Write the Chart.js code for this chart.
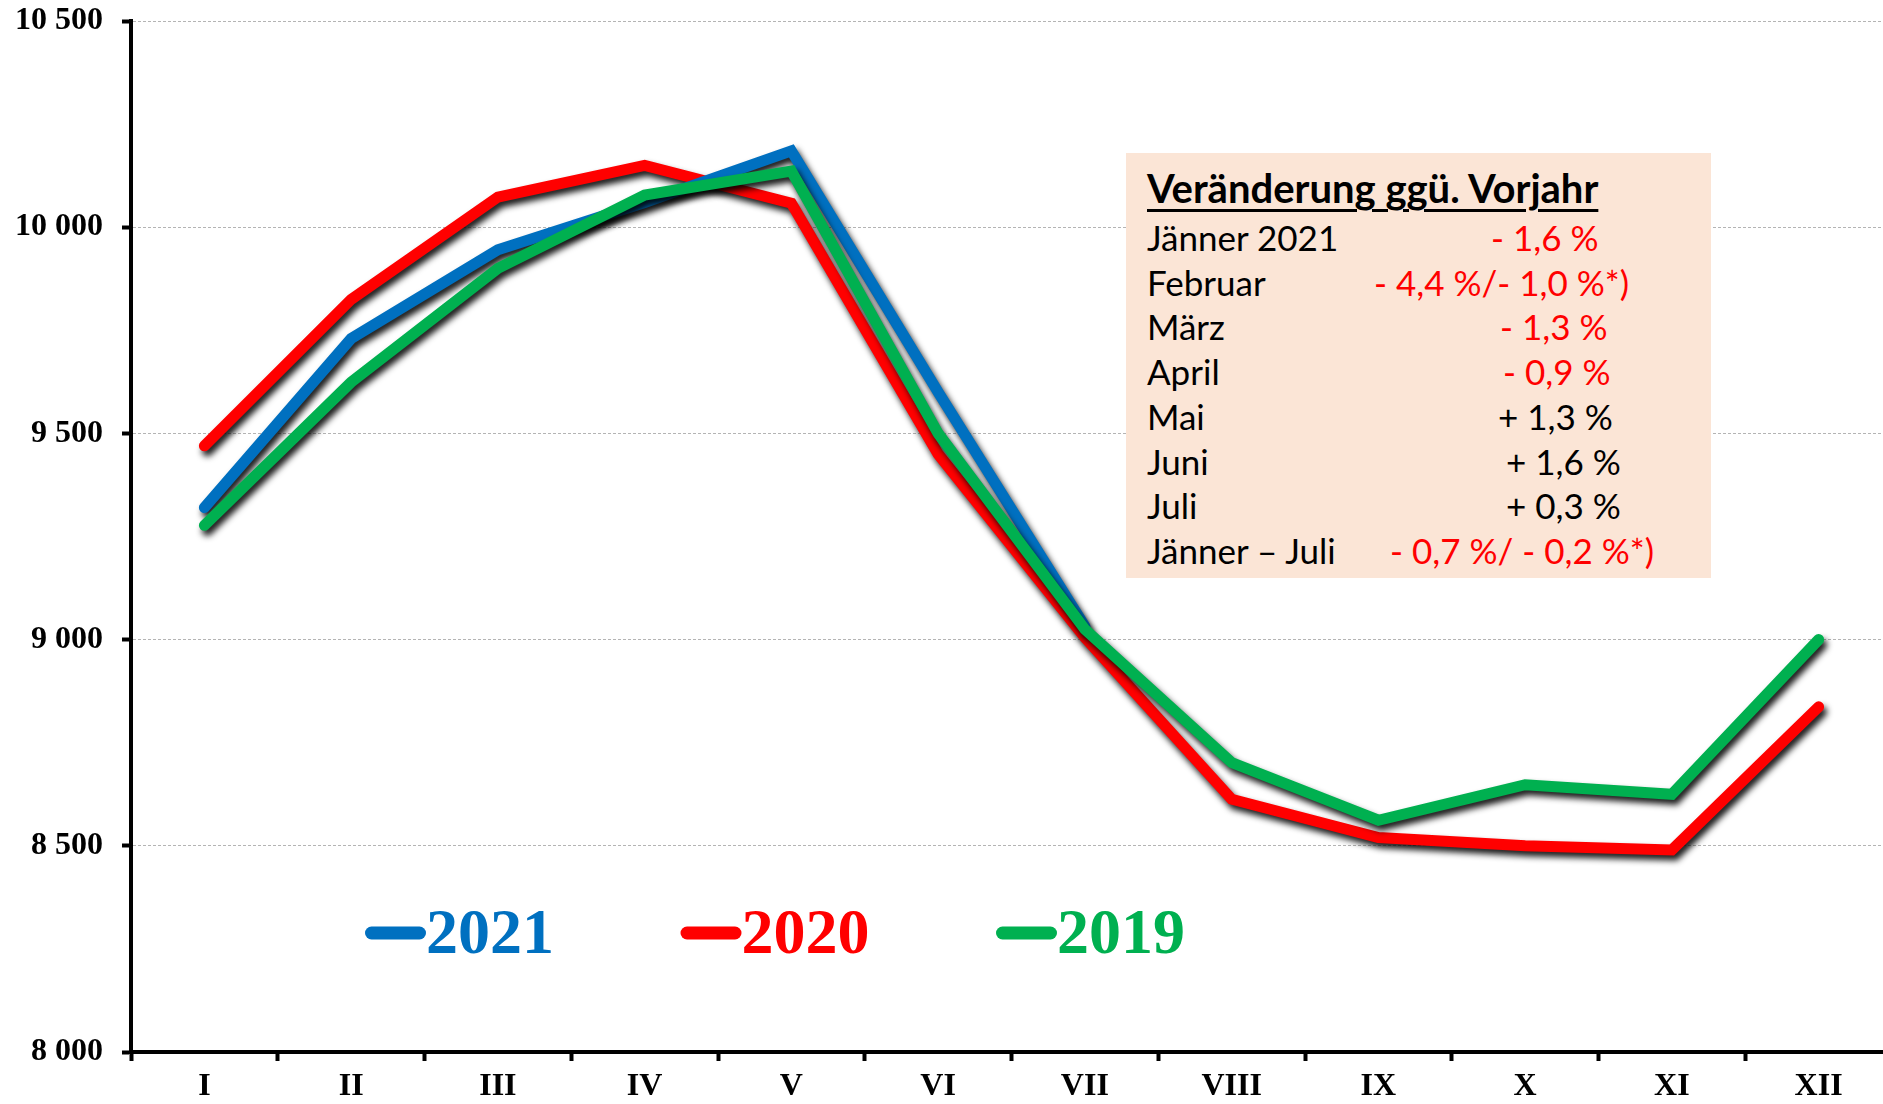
<!DOCTYPE html>
<html>
<head>
<meta charset="utf-8">
<script src="https://cdn.jsdelivr.net/npm/chart.js@4.4.1/dist/chart.umd.min.js"></script>
<style>
    body { margin: 0; overflow: hidden; background: #fff; }
    #wrap { position: absolute; left: 0; top: 0; width: 1900px; height: 1104px; }
    #box {
        position: absolute; left: 1126px; top: 153px; width: 585px; height: 425px;
        background: #FBE5D6; font-family: Lato, "Open Sans", sans-serif; font-size: 35px; color: #000;
    }
    #box .head {
        position: absolute; left: 21px; top: 13px; font-size: 40px; font-weight: bold; line-height: 45px;
        text-decoration: underline; text-decoration-thickness: 3px; text-underline-offset: 6px; white-space: nowrap;
    }
    #box .row { position: absolute; left: 21px; line-height: 45px; white-space: nowrap; }
    #box .val { position: absolute; line-height: 45px; white-space: nowrap; }
    .neg { color: #FF0000; }
</style>
</head>
<body>
<div id="wrap"><canvas id="chart"></canvas></div>
<div id="box"></div>

<script>
const months = ['I', 'II', 'III', 'IV', 'V', 'VI', 'VII', 'VIII', 'IX', 'X', 'XI', 'XII'];
const years = ['2021', '2020', '2019'];
const colors = ['#0070C0', '#FF0000', '#00B050'];

const values2021 = [9320, 9730, 9945, 10060, 10185, 9600, 9032];
const values2020 = [9470, 9825, 10073, 10150, 10058, 9450, 9005, 8613, 8520, 8500, 8490, 8837];
const values2019 = [9277, 9624, 9900, 10078, 10136, 9500, 9025, 8702, 8562, 8648, 8625, 9000];

const yTicks = [8000, 8500, 9000, 9500, 10000, 10500];

// Textbox: Veränderung ggü. Vorjahr
const boxTitle = 'Veränderung ggü. Vorjahr';
const boxLabels = ['Jänner 2021', 'Februar', 'März', 'April', 'Mai', 'Juni', 'Juli', 'Jänner – Juli'];
const boxChanges = ['- 1,6 %', '- 4,4 %/- 1,0 %*)', '- 1,3 %', '- 0,9 %', '+ 1,3 %', '+ 1,6 %', '+ 0,3 %', '- 0,7 %/ - 0,2 %*)'];
const boxValueX = [365, 248, 374, 377, 372, 380, 380, 264];

// build the box
const box = document.getElementById('box');
let html = '<div class="head">' + boxTitle + '</div>';
for (let i = 0; i < boxLabels.length; i++) {
    const top = 62 + i * 44.7;
    const cls = boxChanges[i].startsWith('-') ? 'val neg' : 'val';
    html += '<div class="row" style="top:' + top + 'px">' + boxLabels[i] + '</div>';
    html += '<div class="' + cls + '" style="top:' + top + 'px;left:' + boxValueX[i] + 'px">' + boxChanges[i] + '</div>';
}
box.innerHTML = html;

function fmt(v) {
    return String(v).replace(/\B(?=(\d{3})+(?!\d))/g, ' ');
}

// dark drop shadow under every line
const shadowPlugin = {
    id: 'shadow',
    beforeDatasetDraw(chart) {
        const ctx = chart.ctx;
        ctx.save();
        ctx.shadowColor = 'rgba(0,0,0,0.9)';
        ctx.shadowBlur = 6;
        ctx.shadowOffsetX = 3;
        ctx.shadowOffsetY = 5;
    },
    afterDatasetDraw(chart) {
        chart.ctx.restore();
    }
};

// legend drawn inside the plot, like the original
const inlineLegend = {
    id: 'inlineLegend',
    afterDraw(chart) {
        const ctx = chart.ctx;
        const area = chart.chartArea;
        ctx.save();
        ctx.font = 'bold 64px "Liberation Serif", serif';
        ctx.textBaseline = 'alphabetic';
        chart.data.datasets.forEach((ds, i) => {
            const x = area.left + 234 + i * 315.5;
            const y = 933;
            ctx.strokeStyle = ds.borderColor;
            ctx.lineWidth = 13;
            ctx.lineCap = 'round';
            ctx.beginPath();
            ctx.moveTo(x + 6.5, y);
            ctx.lineTo(x + 54.5, y);
            ctx.stroke();
            ctx.fillStyle = ds.borderColor;
            ctx.fillText(ds.label, x + 61, y + 20);
        });
        ctx.restore();
    }
};

const series = [values2021, values2020, values2019];
const drawOrder = [1, 2, 0];

new Chart(document.getElementById('chart'), {
    type: 'line',
    data: {
        labels: months,
        datasets: series.map((s, i) => ({
            label: years[i],
            data: s,
            borderColor: colors[i],
            backgroundColor: colors[i],
            borderWidth: 11,
            borderCapStyle: 'round',
            borderJoinStyle: 'miter',
            pointRadius: 0,
            tension: 0,
            fill: false,
            order: drawOrder[i]
        }))
    },
    options: {
        responsive: true,
        maintainAspectRatio: false,
        animation: false,
        layout: { padding: { top: 21, right: 8, left: 0, bottom: 0 } },
        plugins: {
            legend: { display: false },
            tooltip: { enabled: false }
        },
        scales: {
            x: {
                offset: true,
                grid: {
                    offset: true,
                    drawOnChartArea: false,
                    tickColor: '#000',
                    tickWidth: 4,
                    tickLength: 9
                },
                border: { color: '#000', width: 4 },
                ticks: {
                    color: '#000',
                    padding: 7,
                    maxRotation: 0,
                    font: { family: '"Liberation Serif", serif', size: 32, weight: 'bold' }
                },
                afterFit(scale) { scale.height = 52; }
            },
            y: {
                min: yTicks[0],
                max: yTicks[yTicks.length - 1],
                afterBuildTicks(scale) { scale.ticks = yTicks.map(v => ({ value: v })); },
                grid: {
                    color: '#b4b4b4',
                    lineWidth: 1,
                    tickColor: '#000',
                    tickWidth: 4,
                    tickLength: 9,
                    tickBorderDash: []
                },
                border: { color: '#000', width: 4, dash: [3, 2] },
                ticks: {
                    color: '#000',
                    padding: 19,
                    font: { family: '"Liberation Serif", serif', size: 32, weight: 'bold' },
                    callback: v => fmt(v)
                },
                afterFit(scale) {
                    scale.width = 131;
                    scale.paddingTop = 0;
                    scale.paddingBottom = 0;
                }
            }
        }
    },
    plugins: [shadowPlugin, inlineLegend]
});
</script>
</body>
</html>
